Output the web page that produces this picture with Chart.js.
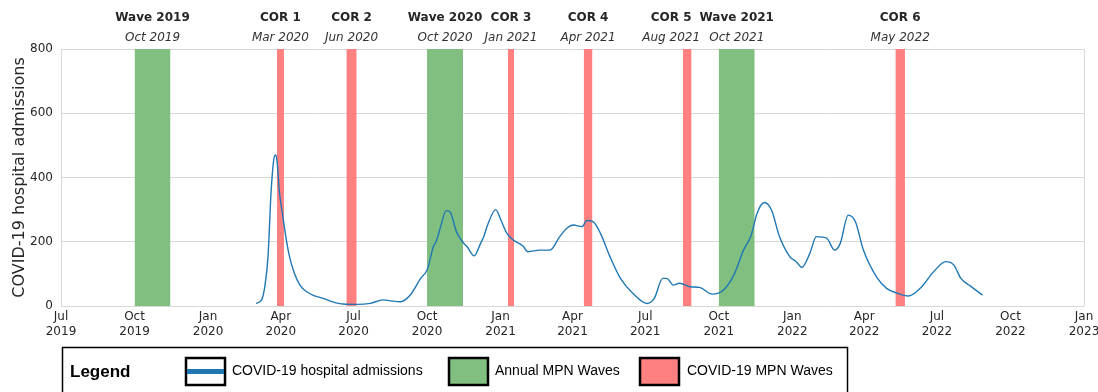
<!DOCTYPE html>
<html>
<head>
<meta charset="utf-8">
<script src="https://cdn.jsdelivr.net/npm/chart.js@4.4.0/dist/chart.umd.min.js"></script>
<style>
  body { margin: 0; background: #fff; }
  canvas { display: block; }
</style>
</head>
<body>
<canvas id="myChart" width="1098" height="392"></canvas>
<script>
// Datos

const admissionDates = [
  '2020-03-01', '2020-03-08', '2020-03-12', '2020-03-16', '2020-03-20', '2020-03-24', '2020-03-26', '2020-03-28', '2020-03-30',
  '2020-04-03', '2020-04-08', '2020-04-12', '2020-04-18', '2020-04-25', '2020-05-03', '2020-05-11', '2020-05-24',
  '2020-06-05', '2020-06-18', '2020-07-05', '2020-07-22', '2020-08-07', '2020-08-16', '2020-08-29', '2020-09-10',
  '2020-09-23', '2020-10-01', '2020-10-09', '2020-10-13', '2020-10-18', '2020-10-25', '2020-10-30', '2020-11-07',
  '2020-11-16', '2020-11-20', '2020-11-29', '2020-12-07', '2020-12-11', '2020-12-15', '2020-12-26',
  '2021-01-01', '2021-01-09', '2021-01-17', '2021-01-29', '2021-02-04', '2021-02-19', '2021-03-04', '2021-03-16',
  '2021-03-25', '2021-04-02', '2021-04-13', '2021-04-19', '2021-04-27', '2021-05-06', '2021-05-18', '2021-05-31',
  '2021-06-16', '2021-07-03', '2021-07-12', '2021-07-23', '2021-07-28', '2021-08-05', '2021-08-13', '2021-08-26',
  '2021-09-07', '2021-09-23', '2021-10-07', '2021-10-20', '2021-11-01', '2021-11-10', '2021-11-18', '2021-11-27',
  '2021-12-06', '2021-12-16', '2021-12-29',
  '2022-01-06', '2022-01-13', '2022-01-23', '2022-01-31', '2022-02-13', '2022-02-23', '2022-03-02', '2022-03-12',
  '2022-03-21', '2022-03-31', '2022-04-17', '2022-04-29', '2022-05-12', '2022-05-26', '2022-06-10', '2022-06-27',
  '2022-07-12', '2022-07-22', '2022-07-31', '2022-08-12', '2022-08-27',
];
const admissionValues = [
  8, 19, 60, 153, 361, 465, 470, 434, 361,
  289, 205, 153, 102, 65, 45, 34, 24,
  13, 6, 5, 8, 19, 16, 13, 34,
  86, 112, 185, 205, 247, 297, 292, 230,
  195, 185, 156, 195, 216, 247, 300,
  270, 226, 205, 187, 169, 174, 174, 216,
  242, 252, 247, 266, 262, 226, 153, 86,
  38, 8, 22, 86, 86, 65, 71, 60,
  58, 37, 50, 97, 174, 216, 289, 322,
  299, 216, 153,
  138, 120, 164, 216, 211, 174, 195, 283,
  262, 174, 88, 55, 40, 31, 55, 107,
  138, 128, 86, 62, 34,
];

// Olas (bandas verticales)
const bandNames = ['Wave 2019', 'COR 1', 'COR 2', 'Wave 2020', 'COR 3', 'COR 4', 'COR 5', 'Wave 2021', 'COR 6'];
const bandMonths = ['Oct 2019', 'Mar 2020', 'Jun 2020', 'Oct 2020', 'Jan 2021', 'Apr 2021', 'Aug 2021', 'Oct 2021', 'May 2022'];
const bandStarts = ['2019-10-01', '2020-03-27', '2020-06-22', '2020-10-01', '2021-01-10', '2021-04-15', '2021-08-17', '2021-10-01', '2022-05-10'];
const bandEnds = ['2019-11-15', '2020-04-05', '2020-07-05', '2020-11-15', '2021-01-18', '2021-04-26', '2021-08-28', '2021-11-15', '2022-05-22'];
const bandTypes = ['annual', 'covid', 'covid', 'annual', 'covid', 'covid', 'covid', 'annual', 'covid'];
// corrimiento de la etiqueta (px) para que no se pisen
const labelShift = [0, 0, 0, 0, 0, 0, -16, 0, 0];

const tickDates = [
  '2019-07-01', '2019-10-01', '2020-01-01', '2020-04-01', '2020-07-01', '2020-10-01', '2021-01-01',
  '2021-04-01', '2021-07-01', '2021-10-01', '2022-01-01', '2022-04-01', '2022-07-01', '2022-10-01', '2023-01-01',
];
const tickLabels = [
  ['Jul', '2019'], ['Oct', '2019'], ['Jan', '2020'], ['Apr', '2020'], ['Jul', '2020'], ['Oct', '2020'], ['Jan', '2021'],
  ['Apr', '2021'], ['Jul', '2021'], ['Oct', '2021'], ['Jan', '2022'], ['Apr', '2022'], ['Jul', '2022'], ['Oct', '2022'], ['Jan', '2023'],
];
const yTicks = [0, 200, 400, 600, 800];

const bandColors = { annual: '#80bf80', covid: '#ff8080' };
const lineColor = '#1f77b4';

const toTime = (s) => Date.parse(s);
const tickTimes = tickDates.map(toTime);

const initChart = () => {
  const ctx = document.getElementById('myChart');

  const bandDatasets = bandNames.map((name, i) => ({
    label: name,
    data: [
      { x: toTime(bandStarts[i]), y: 800 },
      { x: toTime(bandEnds[i]), y: 800 },
    ],
    backgroundColor: bandColors[bandTypes[i]],
    borderWidth: 0,
    pointRadius: 0,
    fill: 'origin',
    order: 2,
  }));

  // etiquetas de arriba
  const topLabels = {
    id: 'topLabels',
    afterDraw(chart) {
      const c = chart.ctx;
      const xs = chart.scales.x;
      c.save();
      c.textAlign = 'center';
      c.textBaseline = 'middle';
      bandNames.forEach((name, i) => {
        const mid = (toTime(bandStarts[i]) + toTime(bandEnds[i])) / 2;
        const x = xs.getPixelForValue(mid) + labelShift[i];
        c.fillStyle = '#262626';
        c.font = 'bold 12px "DejaVu Sans"';
        c.fillText(name, x, 18);
        c.fillStyle = '#333';
        c.font = 'italic 12px "DejaVu Sans"';
        c.fillText(bandMonths[i], x, 38);
      });
      c.restore();
    },
  };

  // leyenda de abajo
  const boxLegend = {
    id: 'boxLegend',
    afterDraw(chart) {
      const c = chart.ctx;
      c.save();
      c.strokeStyle = '#000';
      c.lineWidth = 1.5;
      c.strokeRect(62.5, 347.5, 785, 60);
      c.fillStyle = '#000';
      c.textBaseline = 'middle';
      c.font = 'bold 17px "Liberation Sans"';
      c.fillText('Legend', 70, 372);

      const patch = (x, fill) => {
        c.fillStyle = fill;
        c.fillRect(x, 358, 39, 27);
        c.lineWidth = 2.5;
        c.strokeStyle = '#000';
        c.strokeRect(x, 358, 39, 27);
      };
      patch(186, '#fff');
      c.fillStyle = lineColor;
      c.fillRect(187, 369, 37, 5);
      patch(449, bandColors.annual);
      patch(640, bandColors.covid);

      c.fillStyle = '#000';
      c.font = '14px "Liberation Sans"';
      c.fillText('COVID-19 hospital admissions', 232, 371);
      c.fillText('Annual MPN Waves', 495, 371);
      c.fillText('COVID-19 MPN Waves', 687, 371);
      c.restore();
    },
  };

  new Chart(ctx, {
    type: 'line',
    data: {
      datasets: [
        {
          label: 'COVID-19 hospital admissions',
          data: admissionDates.map((d, i) => ({ x: toTime(d), y: admissionValues[i] })),
          borderColor: lineColor,
          borderWidth: 1.4,
          pointRadius: 0,
          fill: false,
          cubicInterpolationMode: 'monotone',
          order: 1,
        },
        ...bandDatasets,
      ],
    },
    options: {
      responsive: false,
      animation: false,
      layout: { padding: { top: 49, right: 14, bottom: 46, left: 0 } },
      plugins: {
        legend: { display: false },
        tooltip: { enabled: false },
      },
      scales: {
        x: {
          type: 'linear',
          min: tickTimes[0],
          max: tickTimes[tickTimes.length - 1],
          afterBuildTicks: (scale) => {
            scale.ticks = tickTimes.map((v) => ({ value: v }));
          },
          afterFit: (scale) => {
            scale.height = 40;
            scale.paddingLeft = 0;
            scale.paddingRight = 0;
          },
          ticks: {
            autoSkip: false,
            maxRotation: 0,
            padding: 4,
            color: '#262626',
            font: { family: 'DejaVu Sans', size: 12 },
            callback: (v) => tickLabels[tickTimes.indexOf(v)],
          },
          grid: {
            drawTicks: false,
            color: (c) => (c.index === 0 || c.index === tickTimes.length - 1 ? '#d8d8d8' : 'rgba(0,0,0,0)'),
          },
          border: { display: false },
        },
        y: {
          min: 0,
          max: 800,
          afterBuildTicks: (scale) => {
            scale.ticks = yTicks.map((v) => ({ value: v }));
          },
          afterFit: (scale) => {
            scale.width = 61;
          },
          ticks: {
            padding: 8,
            color: '#262626',
            font: { family: 'DejaVu Sans', size: 12 },
          },
          grid: { drawTicks: false, color: '#d8d8d8' },
          border: { display: false },
          title: {
            display: true,
            text: 'COVID-19 hospital admissions',
            color: '#262626',
            font: { family: 'DejaVu Sans', size: 16 },
            padding: { top: 10, bottom: 4 },
          },
        },
      },
    },
    plugins: [topLabels, boxLegend],
  });
};

initChart();
</script>
</body>
</html>
